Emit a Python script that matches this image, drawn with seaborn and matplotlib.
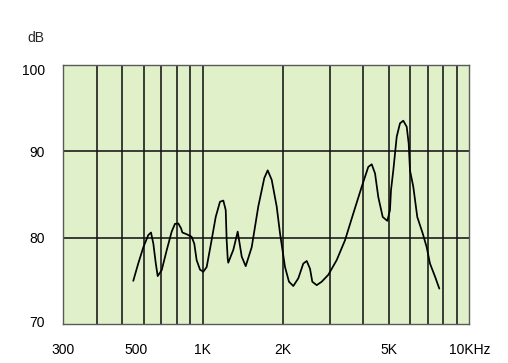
import matplotlib
matplotlib.use("Agg")
import matplotlib.pyplot as plt
import matplotlib.transforms as mtransforms
from matplotlib.ticker import FixedLocator, NullFormatter
import seaborn as sns
import pandas as pd

# ---- data ----
freq_hz = [549, 573, 599, 625, 640, 653, 667, 678, 702, 733, 765, 787, 810, 829, 839,
           871, 909, 930, 949, 977, 1005, 1035, 1074, 1119, 1161, 1195, 1220, 1230, 1241,
           1247, 1303, 1353, 1401, 1450, 1527, 1616, 1702, 1753, 1815, 1895, 1950, 2036,
           2107, 2187, 2284, 2384, 2456, 2527, 2577, 2677, 2795, 2959, 3181, 3418, 3672,
           3949, 4180, 4305, 4430, 4557, 4734, 4927, 5041, 5085, 5188, 5343, 5497, 5655,
           5824, 5925, 5991, 6165, 6381, 6687, 6921, 7122, 7437, 7719]
level_db = [75.0, 77.0, 78.9, 80.3, 80.6, 79.3, 77.0, 75.55, 76.25, 78.56, 80.7, 81.6, 81.65,
            81.1, 80.6, 80.4, 80.1, 79.3, 77.4, 76.3, 76.05, 76.6, 79.3, 82.4, 84.16, 84.3,
            83.2, 79.7, 77.6, 77.1, 78.6, 80.7, 77.8, 76.7, 78.9, 83.6, 86.9, 87.8, 86.7,
            83.6, 80.5, 76.6, 74.9, 74.4, 75.3, 77.0, 77.3, 76.4, 74.9, 74.5, 74.9, 75.7,
            77.4, 79.7, 82.8, 85.9, 88.2, 88.5, 87.45, 84.7, 82.4, 81.95, 83.2, 85.5, 87.8,
            91.7, 93.25, 93.55, 92.85, 90.9, 87.8, 85.9, 82.4, 80.5, 78.9, 77.0, 75.5, 74.1]

x_ticks = [300, 500, 1000, 2000, 5000, 10000]
x_tick_labels = ["300", "500", "1K", "2K", "5K", "10KHz"]
x_grid = [400, 500, 600, 700, 800, 900, 1000, 2000, 3000, 4000, 5000, 6000, 7000, 8000, 9000]
y_ticks = [70, 80, 90, 100]
y_tick_labels = ["70", "80", "90", "100"]
y_unit = "dB"

df = pd.DataFrame({"freq": freq_hz, "db": level_db})

sns.set_style("white")
plt.rcParams["font.family"] = ["Liberation Sans", "DejaVu Sans"]

fig = plt.figure(figsize=(5.08, 3.63), dpi=100)
ax = fig.add_axes([0.1246, 0.1074, 0.7992, 0.7135])
ax.set_facecolor("#e0f0c9")

sns.lineplot(data=df, x="freq", y="db", ax=ax, color="black", linewidth=1.25,
             estimator=None, zorder=5, solid_joinstyle="round", solid_capstyle="round")

ax.set_xscale("log")
ax.set_xlim(300, 10000)
ax.set_ylim(70, 100)

ax.xaxis.set_major_locator(FixedLocator(x_ticks))
ax.set_xticklabels(x_tick_labels)
ax.xaxis.set_minor_locator(FixedLocator(x_grid))
ax.xaxis.set_minor_formatter(NullFormatter())
ax.set_yticks(y_ticks)
ax.set_yticklabels(y_tick_labels)

ax.grid(False)
for xv in x_grid:
    ax.axvline(xv, color="#141414", linewidth=1.15, zorder=2)
for yv in [80, 90]:
    ax.axhline(yv, color="#141414", linewidth=1.15, zorder=2)

ax.tick_params(axis="both", which="both", length=0, labelsize=10, colors="black")
ax.tick_params(axis="x", pad=14)
ax.tick_params(axis="y", pad=13)

for sp in ax.spines.values():
    sp.set_color("#5a5a5a")
    sp.set_linewidth(1.0)

ax.set_xlabel("")
ax.set_ylabel("")

# small label nudges to follow the reference placement
for lbl in ax.get_xticklabels():
    if lbl.get_text() == "500":
        lbl.set_transform(lbl.get_transform() + mtransforms.ScaledTranslation(14 / 100, 0, fig.dpi_scale_trans))
for lbl in ax.get_yticklabels():
    t = lbl.get_text()
    dy = {"100": -4, "70": 3}.get(t, 0)
    if dy:
        lbl.set_transform(lbl.get_transform() + mtransforms.ScaledTranslation(0, dy / 100, fig.dpi_scale_trans))

fig.text(35.5 / 508, 1 - 38 / 363, y_unit, ha="center", va="center", fontsize=10)

fig.savefig("out.png", dpi=100)
